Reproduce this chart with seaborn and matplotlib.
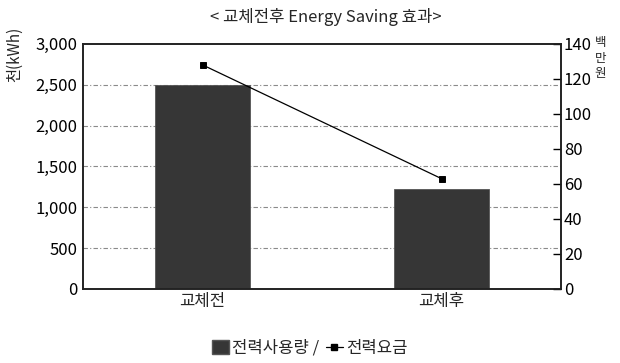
import matplotlib
matplotlib.use("Agg")
import matplotlib.pyplot as plt
import seaborn as sns
import pandas as pd
from matplotlib.patches import Patch
from matplotlib.lines import Line2D

# Data
categories = ["교체전", "교체후"]
usage_kwh = [2500, 1220]          # 천(kWh)
cost_million = [128, 63]          # 백만원
left_ticks = [0, 500, 1000, 1500, 2000, 2500, 3000]
right_ticks = [0, 20, 40, 60, 80, 100, 120, 140]

sns.set_theme(style="white")
plt.rcParams["font.family"] = ["Noto Sans CJK KR", "DejaVu Sans"]
plt.rcParams["axes.unicode_minus"] = False

df = pd.DataFrame({"구분": categories, "전력사용량": usage_kwh, "전력요금": cost_million})

fig = plt.figure(figsize=(6.2, 3.63), dpi=100)
ax = fig.add_axes([0.134, 0.204, 0.771, 0.675])

bar_color = "#363636"
sns.barplot(data=df, x="구분", y="전력사용량", ax=ax, color=bar_color,
            width=0.4, saturation=1, edgecolor="#555555", linewidth=0.6)
ax.set_ylim(0, 3000)
ax.set_yticks(left_ticks)
ax.set_yticklabels([f"{v:,}" for v in left_ticks], fontsize=12)
ax.tick_params(axis="y", length=0, pad=4, colors="black")
ax.tick_params(axis="x", length=0, pad=3, labelsize=12)
ax.set_xlabel("")
ax.set_ylabel("")
for v in left_ticks[1:-1]:
    ax.axhline(v, color="#8a8a8a", lw=0.8, ls=(0, (4, 2, 1, 2)), zorder=0)
for s in ax.spines.values():
    s.set_color("#222222")
    s.set_linewidth(1.2)

ax2 = ax.twinx()
sns.pointplot(data=df, x="구분", y="전력요금", ax=ax2, color="black",
              markers="s", markersize=4, linewidth=0.9)
ax2.set_ylim(0, 140)
ax2.set_xlim(-0.5, 1.5)
ax.set_xlim(-0.5, 1.5)
ax2.set_yticks(right_ticks)
ax2.set_yticklabels([str(v) for v in right_ticks], fontsize=12)
ax2.tick_params(axis="y", direction="in", length=6, width=1, pad=2, colors="black")
ax2.set_ylabel("")
ax2.set_xlabel("")
ax2.grid(False)
for s in ax2.spines.values():
    s.set_color("#222222")
    s.set_linewidth(1.2)

fig.text(0.525, 0.953, "< 교체전후 Energy Saving 효과>", ha="center", va="center", fontsize=12)
fig.text(0.024, 0.85, "천(kWh)", rotation=90, ha="center", va="center", fontsize=11)
# right-axis unit, written vertically one syllable per line
for ch, yy in zip("백만원", [0.882, 0.840, 0.798]):
    fig.text(0.968, yy, ch, ha="center", va="center", fontsize=9)

handles = [Patch(facecolor=bar_color, edgecolor="#555555"),
           Line2D([0], [0], color="black", lw=0.9, marker="s", markersize=4)]
fig.legend(handles, ["전력사용량 /", "전력요금"], loc="center", bbox_to_anchor=(0.5, 0.04),
           ncol=2, frameon=False, fontsize=12, handlelength=1.0, handletextpad=0.2,
           columnspacing=0.4, handleheight=0.9)

fig.savefig("out.png", dpi=100)
